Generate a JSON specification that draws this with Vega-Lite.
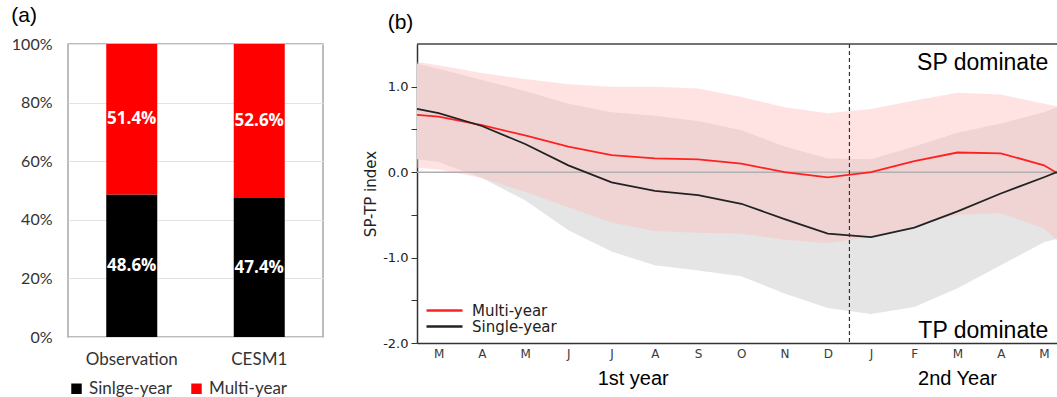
{
  "$schema": "https://vega.github.io/schema/vega-lite/v6.json",
  "background": "white",
  "padding": {"left": 10, "top": 4, "right": 0, "bottom": 0},
  "spacing": 39,
  "resolve": {"scale": {"color": "independent"}, "legend": {"color": "independent"}},
  "datasets": {
    "bars": [
      {"source": "Observation", "type": "Sinlge-year", "share": 0.486},
      {"source": "Observation", "type": "Multi-year", "share": 0.514},
      {"source": "CESM1", "type": "Sinlge-year", "share": 0.474},
      {"source": "CESM1", "type": "Multi-year", "share": 0.526}
    ],
    "bands": [
      {"idx": -0.5, "mu": 1.29, "ml": 0.05, "su": 1.27, "sl": 0.15},
      {"idx": 0, "mu": 1.25, "ml": 0.03, "su": 1.21, "sl": 0.12},
      {"idx": 1, "mu": 1.16, "ml": -0.07, "su": 1.08, "sl": -0.07},
      {"idx": 2, "mu": 1.09, "ml": -0.23, "su": 0.95, "sl": -0.33},
      {"idx": 3, "mu": 1.03, "ml": -0.41, "su": 0.8, "sl": -0.68},
      {"idx": 4, "mu": 1.0, "ml": -0.59, "su": 0.7, "sl": -0.93},
      {"idx": 5, "mu": 1.0, "ml": -0.69, "su": 0.66, "sl": -1.09},
      {"idx": 6, "mu": 0.98, "ml": -0.71, "su": 0.6, "sl": -1.15},
      {"idx": 7, "mu": 0.88, "ml": -0.72, "su": 0.49, "sl": -1.22},
      {"idx": 8, "mu": 0.76, "ml": -0.79, "su": 0.3, "sl": -1.42},
      {"idx": 9, "mu": 0.69, "ml": -0.83, "su": 0.16, "sl": -1.59},
      {"idx": 10, "mu": 0.74, "ml": -0.76, "su": 0.15, "sl": -1.66},
      {"idx": 11, "mu": 0.84, "ml": -0.63, "su": 0.3, "sl": -1.58},
      {"idx": 12, "mu": 0.93, "ml": -0.5, "su": 0.46, "sl": -1.36},
      {"idx": 13, "mu": 0.91, "ml": -0.48, "su": 0.57, "sl": -1.09},
      {"idx": 14, "mu": 0.8, "ml": -0.66, "su": 0.7, "sl": -0.82},
      {"idx": 14.3, "mu": 0.77, "ml": -0.8, "su": 0.76, "sl": -0.78}
    ],
    "lines": [
      {"series": "Multi-year", "idx": -0.5, "value": 0.67},
      {"series": "Multi-year", "idx": 0, "value": 0.65},
      {"series": "Multi-year", "idx": 1, "value": 0.55},
      {"series": "Multi-year", "idx": 2, "value": 0.43},
      {"series": "Multi-year", "idx": 3, "value": 0.3},
      {"series": "Multi-year", "idx": 4, "value": 0.2},
      {"series": "Multi-year", "idx": 5, "value": 0.16},
      {"series": "Multi-year", "idx": 6, "value": 0.15},
      {"series": "Multi-year", "idx": 7, "value": 0.1},
      {"series": "Multi-year", "idx": 8, "value": 0.0},
      {"series": "Multi-year", "idx": 9, "value": -0.06},
      {"series": "Multi-year", "idx": 10, "value": 0.0},
      {"series": "Multi-year", "idx": 11, "value": 0.13},
      {"series": "Multi-year", "idx": 12, "value": 0.23},
      {"series": "Multi-year", "idx": 13, "value": 0.22},
      {"series": "Multi-year", "idx": 14, "value": 0.08},
      {"series": "Multi-year", "idx": 14.3, "value": -0.01},
      {"series": "Single-year", "idx": -0.5, "value": 0.74},
      {"series": "Single-year", "idx": 0, "value": 0.69},
      {"series": "Single-year", "idx": 1, "value": 0.54},
      {"series": "Single-year", "idx": 2, "value": 0.33},
      {"series": "Single-year", "idx": 3, "value": 0.08},
      {"series": "Single-year", "idx": 4, "value": -0.12},
      {"series": "Single-year", "idx": 5, "value": -0.22},
      {"series": "Single-year", "idx": 6, "value": -0.27},
      {"series": "Single-year", "idx": 7, "value": -0.37},
      {"series": "Single-year", "idx": 8, "value": -0.55},
      {"series": "Single-year", "idx": 9, "value": -0.72},
      {"series": "Single-year", "idx": 10, "value": -0.76},
      {"series": "Single-year", "idx": 11, "value": -0.65},
      {"series": "Single-year", "idx": 12, "value": -0.46},
      {"series": "Single-year", "idx": 13, "value": -0.25},
      {"series": "Single-year", "idx": 14, "value": -0.06},
      {"series": "Single-year", "idx": 14.3, "value": 0.0}
    ]
  },
  "hconcat": [
    {
      "width": 255,
      "height": 293,
      "title": {"text": "(a)", "anchor": "start", "font": "Liberation Sans", "fontSize": 21, "fontWeight": "normal", "color": "#000000", "offset": 10},
      "view": {"stroke": "#a6a6a6", "strokeWidth": 1.5},
      "data": {"name": "bars"},
      "encoding": {
        "x": {
          "field": "source", "type": "nominal", "sort": ["Observation", "CESM1"],
          "scale": {"paddingInner": 0.6, "paddingOuter": 0.3},
          "axis": {"title": null, "labelAngle": 0, "ticks": false, "domain": false, "labelFont": "Lato", "labelFontSize": 17, "labelColor": "#333333", "labelPadding": 14}
        }
      },
      "layer": [
        {
          "mark": {"type": "bar"},
          "encoding": {
            "y": {
              "field": "share", "type": "quantitative", "stack": "zero",
              "scale": {"domain": [0, 1]},
              "axis": {"title": null, "values": [0, 0.2, 0.4, 0.6, 0.8, 1], "format": ".0%", "grid": true, "gridColor": "#e3e3e3", "domain": false, "ticks": false, "labelFont": "Lato", "labelFontSize": 16, "labelColor": "#333333", "labelPadding": 16}
            },
            "color": {
              "field": "type", "type": "nominal",
              "scale": {"domain": ["Sinlge-year", "Multi-year"], "range": ["#000000", "#ff0000"]},
              "legend": {"title": null, "orient": "bottom", "direction": "horizontal", "symbolType": "square", "symbolSize": 110, "symbolStrokeWidth": 0, "labelFont": "Lato", "labelFontSize": 17, "labelColor": "#333333", "columnPadding": 16, "labelOffset": 4, "offset": 13}
            },
            "order": {"field": "type", "sort": "descending"}
          }
        },
        {
          "transform": [{"filter": "datum.type === 'Sinlge-year'"}],
          "mark": {"type": "text", "color": "#ffffff", "font": "Open Sans", "fontWeight": "bold", "fontSize": 17, "baseline": "middle"},
          "encoding": {
            "y": {"field": "share", "type": "quantitative", "scale": {"domain": [0, 2]}, "axis": null},
            "text": {"field": "share", "type": "quantitative", "format": ".1%"}
          }
        },
        {
          "transform": [{"filter": "datum.type === 'Multi-year'"}],
          "mark": {"type": "text", "color": "#ffffff", "font": "Open Sans", "fontWeight": "bold", "fontSize": 17, "baseline": "middle"},
          "encoding": {
            "y": {"field": "share", "type": "quantitative", "scale": {"domain": [0, 2], "reverse": true}, "axis": null},
            "text": {"field": "share", "type": "quantitative", "format": ".1%"}
          }
        }
      ],
      "resolve": {"scale": {"y": "independent"}}
    },
    {
      "width": 640,
      "height": 299,
      "title": {"text": "(b)", "anchor": "start", "font": "Liberation Sans", "fontSize": 21, "fontWeight": "normal", "color": "#000000", "offset": 10, "dx": 24},
      "view": {"stroke": null},
      "layer": [
        {
          "data": {"name": "bands"},
          "mark": {"type": "area", "color": "#e5e5e5", "opacity": 1},
          "encoding": {
            "x": {
              "field": "idx", "type": "quantitative",
              "scale": {"domain": [-0.5, 14.3], "nice": false, "zero": false},
              "axis": {"title": null, "values": [0, 1, 2, 3, 4, 5, 6, 7, 8, 9, 10, 11, 12, 13, 14], "labelExpr": "['M','A','M','J','J','A','S','O','N','D','J','F','M','A','M'][datum.value]", "ticks": false, "grid": false, "labelFlush": false, "labelOverlap": false, "labelFont": "DejaVu Sans", "labelFontSize": 12, "labelColor": "#3a3a3a", "labelPadding": 5, "domainColor": "#333333", "domainWidth": 1.5}
            },
            "y": {
              "field": "sl", "type": "quantitative",
              "scale": {"domain": [-2, 1.5], "nice": false, "zero": false},
              "axis": {"title": "SP-TP index", "titleFont": "DejaVu Sans", "titleFontSize": 15, "titleFontWeight": "normal", "titleColor": "#222222", "titlePadding": 4, "values": [-2, -1.5, -1, -0.5, 0, 0.5, 1], "labelExpr": "datum.value % 1 === 0 ? datum.value + '.0' : ''", "labelFont": "DejaVu Sans", "labelFontSize": 13, "labelColor": "#222222", "labelPadding": 3, "tickSize": 6, "tickColor": "#333333", "domainColor": "#333333", "domainWidth": 1.5, "grid": false}
            },
            "y2": {"field": "su"}
          }
        },
        {
          "data": {"name": "bands"},
          "mark": {"type": "area", "color": "#ffbcbc", "opacity": 0.42},
          "encoding": {
            "x": {"field": "idx", "type": "quantitative"},
            "y": {"field": "ml", "type": "quantitative"},
            "y2": {"field": "mu"}
          }
        },
        {
          "data": {"values": [{"ref": "zero"}]},
          "mark": {"type": "rule", "color": "#b0b0b0", "strokeWidth": 1.5},
          "encoding": {"y": {"datum": 0}}
        },
        {
          "data": {"name": "lines"},
          "mark": {"type": "line", "strokeWidth": 1.8},
          "encoding": {
            "x": {"field": "idx", "type": "quantitative"},
            "y": {"field": "value", "type": "quantitative"},
            "color": {
              "field": "series", "type": "nominal",
              "scale": {"domain": ["Multi-year", "Single-year"], "range": ["#ff2020", "#222222"]},
              "legend": {"title": null, "orient": "bottom-left", "offset": 8, "symbolType": "stroke", "symbolSize": 1296, "symbolStrokeWidth": 2.5, "clipHeight": 15, "rowPadding": 0, "labelFont": "DejaVu Sans", "labelFontSize": 15, "labelColor": "#222222", "labelOffset": 8, "padding": 0}
            }
          }
        },
        {
          "data": {"values": [{"ref": "year boundary"}]},
          "mark": {"type": "rule", "color": "#333333", "strokeWidth": 1.2, "strokeDash": [4, 3]},
          "encoding": {"x": {"datum": 9.5}}
        },
        {
          "data": {"values": [{"ref": "top"}]},
          "mark": {"type": "rule", "color": "#444444", "strokeWidth": 1.5},
          "encoding": {"y": {"datum": 1.5}}
        },
        {
          "data": {"values": [{"note": "SP dominate"}]},
          "mark": {"type": "text", "font": "Liberation Sans", "fontSize": 23, "align": "right", "baseline": "alphabetic", "color": "#000000"},
          "encoding": {"x": {"datum": 14.1}, "y": {"datum": 1.2}, "text": {"field": "note"}}
        },
        {
          "data": {"values": [{"note": "TP dominate"}]},
          "mark": {"type": "text", "font": "Liberation Sans", "fontSize": 23, "align": "right", "baseline": "alphabetic", "color": "#000000"},
          "encoding": {"x": {"datum": 14.1}, "y": {"datum": -1.945}, "text": {"field": "note"}}
        },
        {
          "data": {"values": [{"note": "1st year"}]},
          "mark": {"type": "text", "font": "Liberation Sans", "fontSize": 20, "align": "center", "baseline": "alphabetic", "color": "#000000"},
          "encoding": {"x": {"datum": 4.5}, "y": {"datum": -2.49}, "text": {"field": "note"}}
        },
        {
          "data": {"values": [{"note": "2nd Year"}]},
          "mark": {"type": "text", "font": "Liberation Sans", "fontSize": 20, "align": "center", "baseline": "alphabetic", "color": "#000000"},
          "encoding": {"x": {"datum": 12}, "y": {"datum": -2.49}, "text": {"field": "note"}}
        }
      ]
    }
  ]
}
